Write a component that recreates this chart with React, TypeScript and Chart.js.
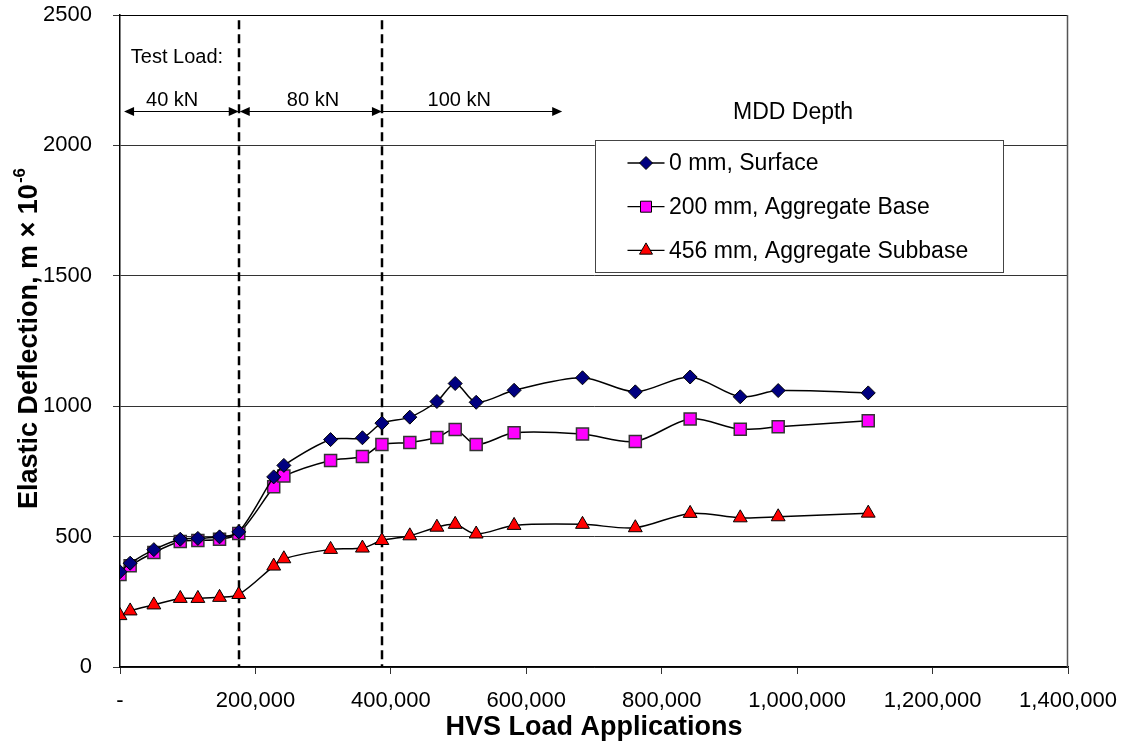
import React, { useEffect, useRef } from 'react';
import { Chart, registerables } from 'chart.js';

Chart.register(...registerables);

// HVS load applications at each measurement
const loadApplications = [
  0, 15000, 50000, 89000, 115000, 147000, 175400, 227000, 242000, 311000, 358000,
  386800, 428000, 468000, 495000, 526000, 582000, 683000, 761000, 842000, 916000,
  972000, 1105000,
];

// Elastic deflection (m x 10^-6) per MDD depth
const surface = [
  365, 398, 450, 490, 493, 499, 518, 729, 773, 872, 879, 935, 958, 1018, 1087, 1015,
  1061, 1109, 1055, 1112, 1036, 1060, 1051,
];
const aggregateBase = [
  355, 388, 439, 481, 485, 490, 512, 691, 732, 792, 807, 853, 861, 880, 911, 853, 898,
  893, 865, 951, 912, 921, 944,
];
const aggregateSubbase = [
  197, 215, 238, 263, 263, 267, 278, 387, 415, 451, 456, 485, 503, 536, 547, 510, 543,
  547, 534, 589, 572, 576, 590,
];

const seriesLabels = ['0 mm, Surface', '200 mm, Aggregate Base', '456 mm, Aggregate Subbase'];

const xTicks = [0, 200000, 400000, 600000, 800000, 1000000, 1200000, 1400000];
const yTicks = [0, 500, 1000, 1500, 2000, 2500];

// Test load stages
const loadChanges = [175400, 386800];
const stageLabels = ['40 kN', '80 kN', '100 kN'];
const stageFrom = [6000, 175400, 386800];
const stageTo = [175400, 386800, 653000];

const FONT = 'Liberation Sans, Arial, Helvetica, sans-serif';

type Marker = 'diamond' | 'square' | 'triangle';

function drawMarker(ctx: CanvasRenderingContext2D, kind: Marker, x: number, y: number, fill: string) {
  ctx.save();
  ctx.beginPath();
  if (kind === 'diamond') {
    const r = 6.5;
    ctx.moveTo(x, y - r);
    ctx.lineTo(x + r, y);
    ctx.lineTo(x, y + r);
    ctx.lineTo(x - r, y);
    ctx.closePath();
  } else if (kind === 'square') {
    const h = 5.5;
    ctx.rect(x - h, y - h, 2 * h, 2 * h);
  } else {
    const r = 7.5;
    ctx.moveTo(x, y - r);
    ctx.lineTo(x + r * 0.866, y + r * 0.5);
    ctx.lineTo(x - r * 0.866, y + r * 0.5);
    ctx.closePath();
  }
  ctx.fillStyle = fill;
  ctx.fill();
  ctx.lineWidth = 1;
  ctx.strokeStyle = '#000';
  ctx.stroke();
  ctx.restore();
}

function arrowHead(ctx: CanvasRenderingContext2D, x: number, y: number, dir: number) {
  ctx.beginPath();
  ctx.moveTo(x, y);
  ctx.lineTo(x - dir * 10, y - 4.5);
  ctx.lineTo(x - dir * 10, y + 4.5);
  ctx.closePath();
  ctx.fill();
}

const markerKinds: Marker[] = ['diamond', 'square', 'triangle'];
const markerFills = ['#000080', '#FF00FF', '#FF0000'];

const decorations = {
  id: 'decorations',
  beforeDatasetsDraw(chart: any) {
    const { ctx, chartArea: a, scales } = chart;
    const xs = scales.x;
    const ys = scales.y;
    ctx.save();
    // frame on top and right
    ctx.strokeStyle = '#000';
    ctx.lineWidth = 1;
    ctx.beginPath();
    ctx.moveTo(a.left, Math.round(a.top) + 0.5);
    ctx.lineTo(a.right, Math.round(a.top) + 0.5);
    ctx.stroke();
    ctx.strokeStyle = '#555';
    ctx.lineWidth = 1.5;
    ctx.beginPath();
    ctx.moveTo(Math.round(a.right) - 0.5, a.top);
    ctx.lineTo(Math.round(a.right) - 0.5, a.bottom);
    ctx.stroke();

    // load change markers
    ctx.strokeStyle = '#000';
    ctx.lineWidth = 2.5;
    ctx.setLineDash([9, 5]);
    loadChanges.forEach((v) => {
      const px = Math.round(xs.getPixelForValue(v));
      ctx.beginPath();
      ctx.moveTo(px, ys.getPixelForValue(2480));
      ctx.lineTo(px, a.bottom);
      ctx.stroke();
    });
    ctx.setLineDash([]);

    // stage arrows
    const arrowY = Math.round(ys.getPixelForValue(2133)) + 0.5;
    ctx.lineWidth = 1.2;
    ctx.fillStyle = '#000';
    stageLabels.forEach((_, i) => {
      const x0 = xs.getPixelForValue(stageFrom[i]);
      const x1 = xs.getPixelForValue(stageTo[i]);
      const both = i < 2;
      ctx.beginPath();
      ctx.moveTo(x0 + (both ? 2 : 0), arrowY);
      ctx.lineTo(x1 - 2, arrowY);
      ctx.stroke();
      arrowHead(ctx, x1, arrowY, 1);
      if (both) arrowHead(ctx, x0 + (i === 0 ? 0 : 1), arrowY, -1);
    });

    ctx.fillStyle = '#000';
    ctx.font = `20px ${FONT}`;
    ctx.textBaseline = 'middle';
    ctx.textAlign = 'center';
    const labelY = ys.getPixelForValue(2172);
    const labelX = [77000, 285000, 501000];
    stageLabels.forEach((t, i) => ctx.fillText(t, xs.getPixelForValue(labelX[i]), labelY));
    ctx.textAlign = 'left';
    ctx.fillText('Test Load:', xs.getPixelForValue(16000), ys.getPixelForValue(2339));

    ctx.font = `23px ${FONT}`;
    ctx.textAlign = 'center';
    ctx.fillText('MDD Depth', xs.getPixelForValue(994000), ys.getPixelForValue(2124));
    ctx.restore();
  },
  afterDraw(chart: any) {
    const { ctx, chartArea: a } = chart;
    ctx.save();
    // legend
    const bx = a.left + 475.5;
    const by = a.top + 125.5;
    const bw = 408;
    const bh = 132;
    ctx.fillStyle = '#fff';
    ctx.fillRect(bx, by, bw, bh);
    ctx.strokeStyle = '#444';
    ctx.lineWidth = 1;
    ctx.strokeRect(bx, by, bw, bh);
    ctx.font = `23px ${FONT}`;
    ctx.textBaseline = 'middle';
    ctx.textAlign = 'left';
    seriesLabels.forEach((t, i) => {
      const y = by + 22.5 + i * 43.7;
      ctx.strokeStyle = '#000';
      ctx.lineWidth = 1.3;
      ctx.beginPath();
      ctx.moveTo(bx + 32, y);
      ctx.lineTo(bx + 69, y);
      ctx.stroke();
      drawMarker(ctx, markerKinds[i], bx + 50.5, y, markerFills[i]);
      ctx.fillStyle = '#000';
      ctx.fillText(t, bx + 73.5, y + 1);
    });

    // axis titles
    ctx.fillStyle = '#000';
    ctx.font = `bold 27px ${FONT}`;
    ctx.textAlign = 'center';
    ctx.fillText('HVS Load Applications', (a.left + a.right) / 2, 728);

    const main = 'Elastic Deflection, m \u00d7 10';
    const sup = '-6';
    ctx.font = `bold 27px ${FONT}`;
    const wMain = ctx.measureText(main).width;
    ctx.font = `bold 17px ${FONT}`;
    const wSup = ctx.measureText(sup).width;
    ctx.translate(30, (a.top + a.bottom) / 2 - 2);
    ctx.rotate(-Math.PI / 2);
    const start = -(wMain + wSup) / 2;
    ctx.textAlign = 'left';
    ctx.font = `bold 27px ${FONT}`;
    ctx.fillText(main, start, 0);
    ctx.font = `bold 17px ${FONT}`;
    ctx.fillText(sup, start + wMain + 1, -10);
    ctx.restore();
  },
};

// keep the plot area governed by layout padding alone
const clearPadding = (s: any) => {
  s.paddingTop = 0;
  s.paddingBottom = 0;
  s.paddingLeft = 0;
  s.paddingRight = 0;
};

export default function App() {
  const ref = useRef<HTMLCanvasElement>(null);

  useEffect(() => {
    if (!ref.current) return;
    const toPoints = (vals: number[]) => loadApplications.map((x, i) => ({ x, y: vals[i] }));
    const common = {
      borderColor: '#000',
      borderWidth: 1.5,
      tension: 0.3,
      pointBorderColor: '#000',
      pointBorderWidth: 1,
      showLine: true,
    };
    const chart = new Chart(ref.current, {
      type: 'scatter',
      data: {
        datasets: [
          {
            ...common,
            label: seriesLabels[0],
            data: toPoints(surface),
            pointStyle: 'rectRot',
            pointRadius: 7,
            pointBackgroundColor: '#000080',
          },
          {
            ...common,
            label: seriesLabels[1],
            data: toPoints(aggregateBase),
            pointStyle: 'rect',
            pointRadius: 8.5,
            pointBorderColor: '#333',
            pointBorderWidth: 1.5,
            pointBackgroundColor: '#FF00FF',
          },
          {
            ...common,
            label: seriesLabels[2],
            data: toPoints(aggregateSubbase),
            pointStyle: 'triangle',
            pointRadius: 8,
            pointBackgroundColor: '#FF0000',
          },
        ],
      },
      options: {
        responsive: false,
        animation: false,
        devicePixelRatio: 1,
        layout: { padding: { top: 15, right: 57, left: 0, bottom: 0 } },
        plugins: {
          legend: { display: false },
          tooltip: { enabled: false },
        },
        scales: {
          x: {
            type: 'linear',
            min: xTicks[0],
            max: xTicks[xTicks.length - 1],
            afterFit: (s: any) => {
              s.height = 81;
              clearPadding(s);
            },
            afterBuildTicks: (s: any) => {
              s.ticks = xTicks.map((v) => ({ value: v }));
            },
            ticks: {
              color: '#000',
              font: { family: FONT, size: 22 },
              padding: 14,
              maxRotation: 0,
              autoSkip: false,
              callback: (v: any) => (Number(v) === 0 ? '-' : Number(v).toLocaleString('en-US')),
            },
            grid: { drawOnChartArea: false, drawTicks: true, tickLength: 7, color: '#333' },
            border: { color: '#000', width: 1.5 },
          },
          y: {
            type: 'linear',
            min: yTicks[0],
            max: yTicks[yTicks.length - 1],
            afterFit: (s: any) => {
              s.width = 120;
              clearPadding(s);
            },
            afterBuildTicks: (s: any) => {
              s.ticks = yTicks.map((v) => ({ value: v }));
            },
            ticks: {
              color: '#000',
              font: { family: FONT, size: 22 },
              padding: 21,
              autoSkip: false,
              callback: (v: any) => String(v),
            },
            grid: { color: '#333', tickLength: 7, lineWidth: 1 },
            border: { color: '#000', width: 1.5 },
          },
        },
      },
      plugins: [decorations],
    });
    return () => chart.destroy();
  }, []);

  return (
    <div style={{ position: 'absolute', left: 0, top: 0, width: 1125, height: 748, background: '#fff' }}>
      <canvas ref={ref} width={1125} height={748} style={{ display: 'block' }} />
    </div>
  );
}
